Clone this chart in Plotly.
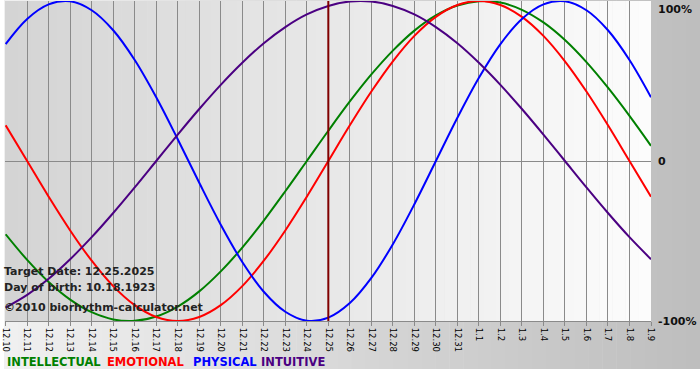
import plotly.graph_objects as go

# ---- data ----
dates = ["12.10", "12.11", "12.12", "12.13", "12.14", "12.15", "12.16", "12.17",
         "12.18", "12.19", "12.20", "12.21", "12.22", "12.23", "12.24", "12.25",
         "12.26", "12.27", "12.28", "12.29", "12.30", "12.31", "1.1", "1.2",
         "1.3", "1.4", "1.5", "1.6", "1.7", "1.8", "1.9"]
target_date = "12.25"

intellectual = [-45.8, -61.8, -75.6, -86.6, -94.5, -99.0, -99.9, -97.2, -91.0, -81.5,
                -69.0, -54.1, -37.2, -18.9, 0, 18.9, 37.2, 54.1, 69.0, 81.5, 91.0,
                97.2, 99.9, 99.0, 94.5, 86.6, 75.6, 61.8, 45.8, 28.2, 9.5]
emotional = [22.3, 0, -22.3, -43.4, -62.3, -78.2, -90.1, -97.5, -100, -97.5, -90.1,
             -78.2, -62.3, -43.4, -22.3, 0, 22.3, 43.4, 62.3, 78.2, 90.1, 97.5, 100,
             97.5, 90.1, 78.2, 62.3, 43.4, 22.3, 0, -22.3]
physical = [73.1, 88.8, 97.9, 99.8, 94.2, 81.7, 63.1, 39.8, 13.6, -13.6, -39.8,
            -63.1, -81.7, -94.2, -99.8, -97.9, -88.8, -73.1, -52.0, -27.0, 0, 27.0,
            52.0, 73.1, 88.8, 97.9, 99.8, 94.2, 81.7, 63.1, 39.8]
intuitive = [-91.6, -83.7, -73.6, -61.4, -47.6, -32.5, -16.5, 0, 16.5, 32.5, 47.6,
             61.4, 73.6, 83.7, 91.6, 96.9, 99.7, 99.7, 96.9, 91.6, 83.7, 73.6, 61.4,
             47.6, 32.5, 16.5, 0, -16.5, -32.5, -47.6, -61.4]

series_names = ["INTELLECTUAL", "EMOTIONAL", "PHYSICAL", "INTUITIVE"]
series_values = [intellectual, emotional, physical, intuitive]
series_colors = ["#008000", "#ff0000", "#0000ff", "#4b0082"]

info_lines = ["Target Date: 12.25.2025", "Day of birth: 10.18.1923",
              "\u00a92010 biorhythm-calculator.net"]
y_labels = ["100%", "0", "-100%"]
y_label_vals = [100, 0, -100]

# ---- layout geometry (pixels) ----
W, H = 700, 380
L, R, T, B = 1, 651, 1, 321
PW, PH = R - L, B - T


def px_x(px):
    return (px - L) / PW


def px_y(py):
    return (B - py) / PH


def lerp(c1, c2, t):
    return tuple(round(a + (b - a) * t) for a, b in zip(c1, c2))


fig = go.Figure()

shapes = []
# outer background gradient (light -> grey, left to right)
n = 50
c_left, c_right = (240, 240, 240), (190, 190, 190)
for i in range(n):
    x0 = i * W / n
    x1 = (i + 1) * W / n + 0.5
    c = lerp(c_left, c_right, i / (n - 1))
    shapes.append(dict(type="rect", xref="paper", yref="paper",
                       x0=px_x(x0), x1=px_x(x1), y0=px_y(369), y1=px_y(0),
                       fillcolor="rgb(%d,%d,%d)" % c, line_width=0, layer="below"))
# plot area gradient (grey -> near white, left to right)
p_left, p_right = (212, 212, 212), (252, 252, 252)
for i in range(n):
    x0 = L + i * PW / n
    x1 = L + (i + 1) * PW / n + 0.5
    c = lerp(p_left, p_right, i / (n - 1))
    shapes.append(dict(type="rect", xref="paper", yref="paper",
                       x0=px_x(x0), x1=px_x(min(x1, R)), y0=0, y1=1,
                       fillcolor="rgb(%d,%d,%d)" % c, line_width=0, layer="below"))

for name, vals, col in zip(series_names, series_values, series_colors):
    fig.add_trace(go.Scatter(x=dates, y=vals, mode="lines", name=name,
                             line=dict(color=col, width=2, shape="spline"),
                             hoverinfo="skip"))

# target date marker
ti = dates.index(target_date)
shapes.append(dict(type="line", xref="x", yref="paper", x0=ti, x1=ti, y0=0, y1=1,
                   line=dict(color="#800000", width=2), layer="above"))

annotations = []
for txt, yv in zip(y_labels, y_label_vals):
    annotations.append(dict(xref="paper", yref="y", x=px_x(656), y=yv,
                            text="<b>%s</b>" % txt, showarrow=False,
                            xanchor="left",
                            yanchor="top" if yv == 100 else "middle",
                            font=dict(family="DejaVu Sans", size=11, color="#111")))
for txt, py in zip(info_lines, [271, 287, 307]):
    annotations.append(dict(xref="paper", yref="paper", x=px_x(-2), y=px_y(py),
                            text="<b>%s</b>" % txt, showarrow=False,
                            xanchor="left", yanchor="middle",
                            font=dict(family="DejaVu Sans", size=11, color="#222")))
leg_x = [1, 102, 188, 257]
for txt, col, lx in zip(series_names, series_colors, leg_x):
    annotations.append(dict(xref="paper", yref="paper", x=px_x(lx), y=px_y(362),
                            text="<b>%s</b>" % txt, showarrow=False,
                            xanchor="left", yanchor="middle",
                            font=dict(family="DejaVu Sans", size=11.5, color=col)))

fig.update_layout(
    width=W, height=H,
    margin=dict(l=L, r=W - R, t=T, b=H - B, pad=0),
    paper_bgcolor="white", plot_bgcolor="rgba(0,0,0,0)",
    showlegend=False,
    shapes=shapes, annotations=annotations,
    xaxis=dict(type="category", range=[-0.03, 30], showgrid=True,
               gridcolor="#8a8a8a", gridwidth=1, tickangle=90,
               ticks="outside", ticklen=4, tickcolor="#8a8a8a",
               showline=True, linecolor="#8a8a8a", linewidth=1,
               tickfont=dict(family="DejaVu Sans", size=8.5, color="#000"),
               zeroline=False, fixedrange=True),
    yaxis=dict(range=[-100, 100], showgrid=False, showticklabels=False,
               zeroline=True, zerolinecolor="#8a8a8a", zerolinewidth=1,
               fixedrange=True),
)

fig.write_html("out.html", config={"displayModeBar": False},
               post_script="document.body.style.margin='0px';"
                           "document.body.style.overflow='hidden';")
